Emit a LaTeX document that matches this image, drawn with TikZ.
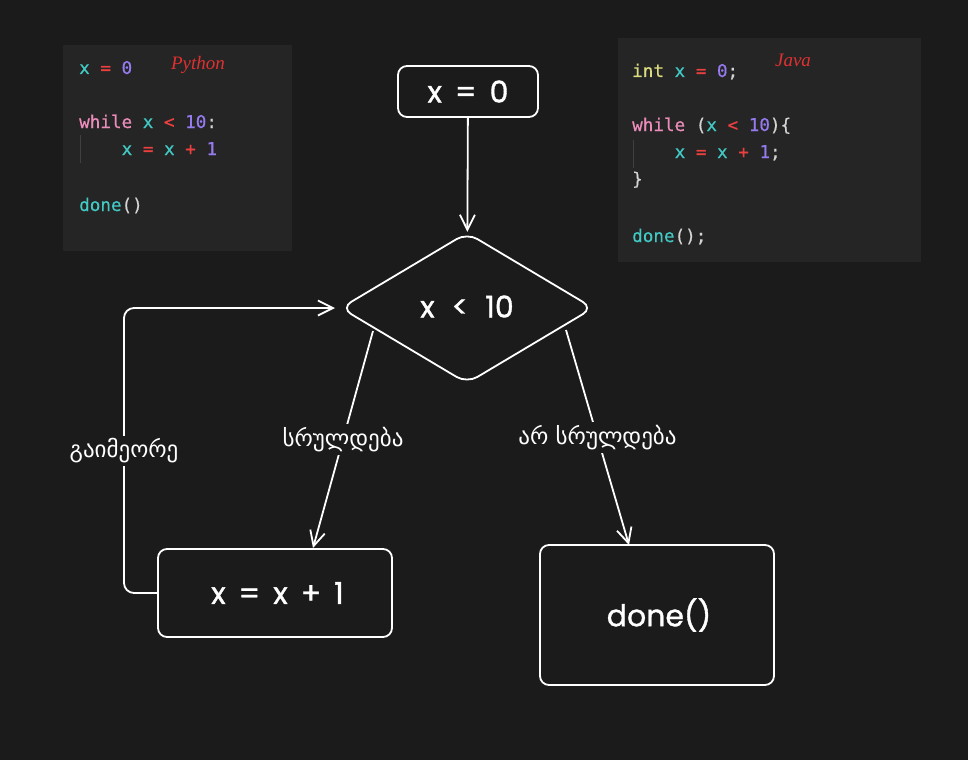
\documentclass[tikz,border=0pt]{standalone}
\usepackage{fontspec}
\usetikzlibrary{arrows.meta,shapes.geometric}
\setmainfont{Poppins}
\setmonofont{DejaVu Sans Mono}[FakeBold=0.5]
\newfontfamily\flowfont{Poppins}[FakeBold=1.2]
\newfontfamily\geofont[Script=Georgian]{DejaVu Sans}
\newfontfamily\notefont{Liberation Serif}

\definecolor{bgc}{RGB}{27,27,27}
\definecolor{codebg}{RGB}{37,37,37}
\definecolor{cvar}{RGB}{66,201,196}
\definecolor{cop}{RGB}{236,64,64}
\definecolor{cnum}{RGB}{150,122,240}
\definecolor{ckw}{RGB}{236,140,186}
\definecolor{ctype}{RGB}{220,220,128}
\definecolor{cpunct}{RGB}{212,212,212}
\definecolor{cguide}{RGB}{64,64,64}
\definecolor{cnote}{RGB}{224,49,49}

\newcommand{\cv}[1]{\textcolor{cvar}{#1}}
\newcommand{\co}[1]{\textcolor{cop}{#1}}
\newcommand{\cn}[1]{\textcolor{cnum}{#1}}
\newcommand{\ck}[1]{\textcolor{ckw}{#1}}
\newcommand{\ct}[1]{\textcolor{ctype}{#1}}
\newcommand{\cp}[1]{\textcolor{cpunct}{#1}}
% wide word gaps for the flowchart labels
\newcommand{\gp}{\hspace{5pt}\ }
\newcommand{\wgp}{\hspace{9pt}\ }

\begin{document}
\begin{tikzpicture}[x=1pt,y=-1pt,
  nodetext/.style={text=white, font=\flowfont\fontsize{30}{34}\selectfont},
  flowbox/.style={draw=white, line width=1.8pt, rounded corners=9pt, inner sep=0pt, nodetext},
  decision/.style={draw=white, line width=1.8pt, shape=diamond, rounded corners=12pt,
    inner sep=0pt, nodetext},
  flow/.style={draw=white, line width=1.8pt, -{Straight Barb[length=15pt,width=15pt,line width=1.8pt]}},
  branchlbl/.style={fill=bgc, text=white, inner sep=3pt, font=\geofont\fontsize{23}{26}\selectfont},
  codeline/.style={anchor=base west, inner sep=0pt, font=\ttfamily\fontsize{17.6}{20}\selectfont},
  codepanel/.style={fill=codebg, draw=none},
  notelbl/.style={text=cnote, inner sep=0pt, font=\notefont\itshape\fontsize{19}{22}\selectfont},
]
\useasboundingbox (0,0) rectangle (968,760);
\fill[bgc] (0,0) rectangle (968,760);

% Python snippet
\fill[codepanel] (63,45) rectangle (292,251);
\node[codeline] (py1) at (79,74) {\cv{x} \co{=} \cn{0}};
\node[codeline] (py2) at (79,128) {\ck{while} \cv{x} \co{<} \cn{10}\cp{:}};
\node[codeline] (py3) at (121.5,155) {\cv{x} \co{=} \cv{x} \co{+} \cn{1}};
\node[codeline] (py4) at (79,211) {\cv{done}\cp{()}};
\draw[cguide, line width=1pt] (80,135) -- (80,163);
\node[notelbl] (pylang) at (198,65) {Python};

% Java snippet
\fill[codepanel] (618,38) rectangle (921,262);
\node[codeline] (jv1) at (632,77) {\ct{int} \cv{x} \co{=} \cn{0}\cp{;}};
\node[codeline] (jv2) at (632,131) {\ck{while} \cp{(}\cv{x} \co{<} \cn{10}\cp{)\{}};
\node[codeline] (jv3) at (674.5,158) {\cv{x} \co{=} \cv{x} \co{+} \cn{1}\cp{;}};
\node[codeline] (jv4) at (632,185) {\cp{\}}};
\node[codeline] (jv5) at (632,242) {\cv{done}\cp{();}};
\draw[cguide, line width=1pt] (633,140) -- (633,168);
\node[notelbl] (jvlang) at (793,60) {Java};

% flowchart
\node[flowbox, minimum width=140pt, minimum height=51pt] (init) at (468,91.5) {x\gp=\gp0};
\node[decision, minimum width=253pt, minimum height=151pt] (test) at (467,308) {\raisebox{3pt}{x\wgp<\wgp10}};
\node[flowbox, minimum width=234pt, minimum height=88pt] (incr) at (275,593) {\hspace{5pt}x\gp=\gp x\gp+\gp1};
\node[flowbox, minimum width=234pt, minimum height=140pt] (done) at (657,615) {\hspace{4pt}done()};

\coordinate (yesfrom) at (373,331);
\coordinate (yesto) at (313,548);
\coordinate (nofrom) at (566,330);
\coordinate (noto) at (629,545);
\coordinate (loopto) at (335,308);

\draw[flow] (init) -- (test);
\draw[flow] (yesfrom) -- node[branchlbl] (yeslbl) {სრულდება} (yesto);
\draw[flow] (nofrom) -- node[branchlbl] (nolbl) {არ სრულდება} (noto);
\draw[flow, rounded corners=10pt] (incr.west) -- (124,593) -- (124,308) -- (loopto);
\node[branchlbl] (looplbl) at (124,451) {გაიმეორე};
\end{tikzpicture}
\end{document}
